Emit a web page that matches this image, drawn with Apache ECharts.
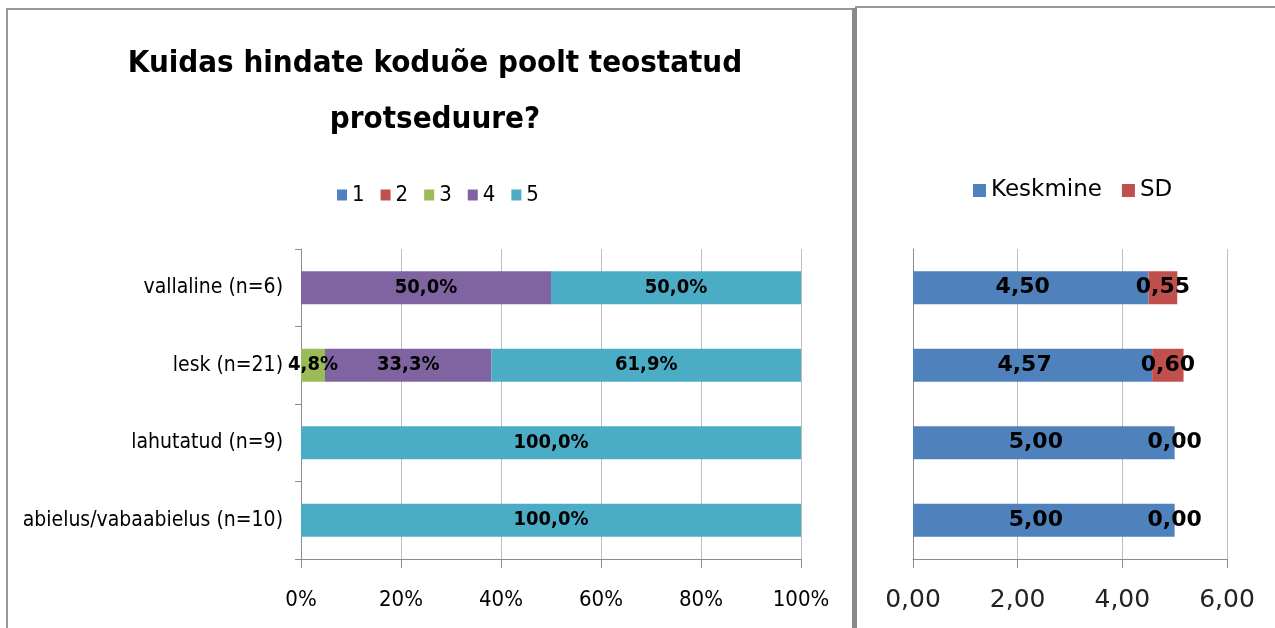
<!DOCTYPE html>
<html>
<head>
<meta charset="utf-8">
<script src="https://cdn.jsdelivr.net/npm/echarts@6/dist/echarts.min.js"></script>
<style>
  html, body { margin: 0; padding: 0; background: #fff; }
  #chart { width: 1275px; height: 628px; }
</style>
</head>
<body>
<div id="chart"></div>
<script>
  var categories = ['vallaline (n=6)', 'lesk (n=21)', 'lahutatud (n=9)', 'abielus/vabaabielus (n=10)']
  // osakaalud hinnete kaupa (%)
  var grade1 = [0, 0, 0, 0]
  var grade2 = [0, 0, 0, 0]
  var grade3 = [0, 4.8, 0, 0]
  var grade4 = [50.0, 33.3, 0, 0]
  var grade5 = [50.0, 61.9, 100.0, 100.0]
  var gradeNames = ['1', '2', '3', '4', '5']
  var keskmine = [4.50, 4.57, 5.00, 5.00]
  var sd = [0.55, 0.60, 0.00, 0.00]
  var pctTicks = [0, 20, 40, 60, 80, 100]
  var meanTicks = [0, 2, 4, 6]

  var narrow = "'Liberation Sans Narrow', 'DejaVu Sans Condensed', sans-serif"
  var wide = "'DejaVu Sans', Verdana, sans-serif"
  var colors = ['#4f81bd', '#c0504d', '#9bbb59', '#8064a2', '#4bacc6']
  var gridGray = '#bfbfbf'
  var axisGray = '#8c8c8c'

  var chart = echarts.init(document.getElementById('chart'))

  function pctLabel(p) {
    return p.value > 0 ? p.value.toFixed(1).replace('.', ',') + '%' : ''
  }
  function numLabel(p) {
    return p.value.toFixed(2).replace('.', ',')
  }

  var gradeData = [grade1, grade2, grade3, grade4, grade5]
  var series = gradeData.map(function(d, i) {
    return {
      name: gradeNames[i],
      type: 'bar',
      stack: 'pct',
      xAxisIndex: 0,
      yAxisIndex: 0,
      barWidth: 33,
      data: d,
      itemStyle: { color: colors[i] },
      label: {
        show: true,
        position: 'inside',
        formatter: pctLabel,
        color: '#000',
        fontFamily: narrow,
        fontWeight: 'bold',
        fontSize: 20
      }
    }
  })
  series.push({
    name: 'Keskmine', type: 'bar', stack: 'mean', xAxisIndex: 1, yAxisIndex: 1,
    barWidth: 33, data: keskmine, itemStyle: { color: colors[0] },
    label: { show: true, position: 'inside', offset: [-8, 0], formatter: numLabel, color: '#000',
      fontFamily: wide, fontWeight: 'bold', fontSize: 22 }
  })
  series.push({
    name: 'SD', type: 'bar', stack: 'mean', xAxisIndex: 1, yAxisIndex: 1,
    barWidth: 33, data: sd, itemStyle: { color: colors[1] },
    label: { show: true, position: 'inside', formatter: numLabel, color: '#000',
      fontFamily: wide, fontWeight: 'bold', fontSize: 22 }
  })

  var option = {
    animation: false,
    title: {
      text: 'Kuidas hindate koduõe poolt teostatud\nprotseduure?',
      left: 430,
      top: 31,
      textAlign: 'center',
      textStyle: { fontFamily: narrow, fontWeight: 'bold', fontSize: 31, lineHeight: 56, color: '#000' }
    },
    legend: [
      {
        data: gradeNames,
        left: 332,
        top: 179,
        itemWidth: 10,
        itemHeight: 11,
        itemGap: 16,
        icon: 'rect',
        textStyle: { fontFamily: narrow, fontSize: 22, color: '#000' }
      },
      {
        data: ['Keskmine', 'SD'],
        left: 968,
        top: 174,
        itemWidth: 13,
        itemHeight: 13,
        itemGap: 20,
        icon: 'rect',
        textStyle: { fontFamily: wide, fontSize: 23, color: '#000' }
      }
    ],
    grid: [
      { left: 301, top: 249, width: 500, height: 310, outerBoundsMode: 'none' },
      { left: 913, top: 249, width: 314, height: 310, outerBoundsMode: 'none' }
    ],
    xAxis: [
      {
        type: 'value', gridIndex: 0, min: pctTicks[0], max: pctTicks[pctTicks.length - 1], interval: 20,
        axisLine: { show: true, lineStyle: { color: axisGray } },
        axisTick: { show: true, length: 9, lineStyle: { color: axisGray } },
        splitLine: { show: true, lineStyle: { color: gridGray } },
        axisLabel: { formatter: '{value}%', fontFamily: narrow, fontSize: 22, color: '#000', margin: 30 }
      },
      {
        type: 'value', gridIndex: 1, min: meanTicks[0], max: meanTicks[meanTicks.length - 1], interval: 2,
        axisLine: { show: true, lineStyle: { color: axisGray } },
        axisTick: { show: true, length: 9, lineStyle: { color: axisGray } },
        splitLine: { show: true, lineStyle: { color: gridGray } },
        axisLabel: {
          formatter: function(v) { return v.toFixed(2).replace('.', ',') },
          fontFamily: wide, fontSize: 25, color: '#222', margin: 29
        }
      }
    ],
    yAxis: [
      {
        type: 'category', gridIndex: 0, inverse: true, data: categories,
        axisLine: { show: true, lineStyle: { color: axisGray } },
        axisTick: { show: true, length: 6, lineStyle: { color: axisGray } },
        axisLabel: { fontFamily: narrow, fontSize: 21, color: '#000', margin: 18 }
      },
      {
        type: 'category', gridIndex: 1, inverse: true, data: categories,
        axisLine: { show: true, lineStyle: { color: axisGray } },
        axisTick: { show: false },
        axisLabel: { show: false }
      }
    ],
    graphic: [
      { type: 'polyline', shape: { points: [[7, 640], [7, 9], [853, 9]] },
        style: { stroke: '#999', lineWidth: 2, fill: null } },
      { type: 'rect', shape: { x: 852, y: 8, width: 5, height: 625 }, style: { fill: '#8a8a8a' } },
      { type: 'line', shape: { x1: 855, y1: 7, x2: 1275, y2: 7 },
        style: { stroke: '#999', lineWidth: 2 } }
    ],
    series: series
  }

  chart.setOption(option)
</script>
</body>
</html>
